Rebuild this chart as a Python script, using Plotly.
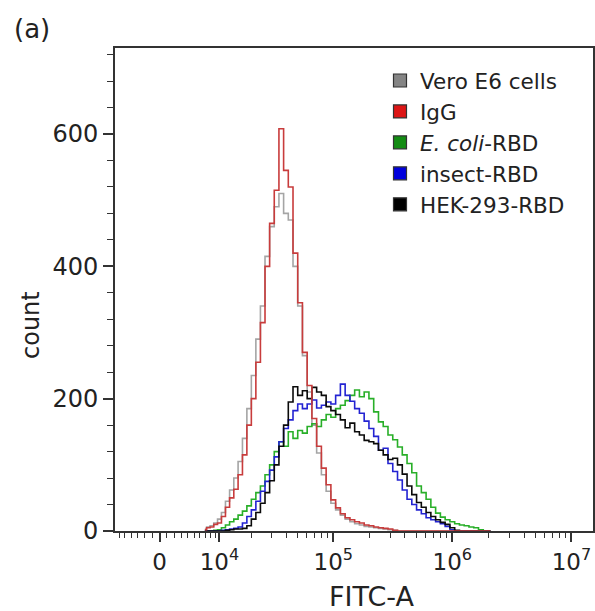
import numpy as np
import plotly.graph_objects as go

# ---------------- data ----------------
# histogram bin centres, log10 of FITC-A intensity
log_fitc = [3.84, 3.88, 3.92, 3.96,
            4.00, 4.04, 4.08, 4.12, 4.16, 4.20, 4.24, 4.28, 4.32, 4.36,
            4.40, 4.44, 4.48, 4.52, 4.56, 4.60, 4.64, 4.68, 4.72, 4.76,
            4.80, 4.84, 4.88, 4.92, 4.96,
            5.00, 5.04, 5.08, 5.12, 5.16, 5.20, 5.24, 5.28, 5.32, 5.36,
            5.40, 5.44, 5.48, 5.52, 5.56, 5.60, 5.64, 5.68, 5.72, 5.76,
            5.80, 5.84, 5.88, 5.92, 5.96,
            6.00, 6.04, 6.08, 6.12, 6.16, 6.20, 6.24, 6.28, 6.32]

vero = [3, 6, 8, 12,
        18, 28, 45, 62, 80, 105, 140, 185, 235, 290, 340, 415, 460, 490, 510, 480, 470, 400, 340, 265, 210, 160, 118, 85, 60,
        42, 32, 24, 18, 14, 11, 9, 7, 6, 5, 4, 3, 2, 1, 0, 0, 0, 0, 0, 0, 0, 0, 0, 0, 0,
        0, 0, 0, 0, 0, 0, 0, 0, 0]
igg = [2, 5, 6, 10,
       12, 22, 36, 50, 63, 85, 115, 160, 200, 255, 315, 400, 465, 515, 608, 545, 520, 420, 345, 270, 220, 170, 128, 95, 70,
       47, 35, 26, 20, 17, 14, 12, 9, 8, 6, 5, 4, 3, 1, 0, 0, 0, 0, 0, 0, 0, 0, 0, 0, 0,
       0, 0, 0, 0, 0, 0, 0, 0, 0]
ecoli = [0, 0, 0, 1,
         2, 5, 9, 14, 18, 24, 30, 38, 48, 58, 68, 85, 100, 120, 135, 128, 150, 140, 152, 148, 158, 162, 158, 168, 176,
         172, 185, 190, 197, 205, 213, 203, 210, 200, 180, 165, 158, 145, 138, 127, 115, 102, 88, 68, 58, 48, 36, 27, 21, 17,
         14, 11, 9, 8, 6, 5, 2, 0, 0]
insect = [0, 0, 0, 0,
          0, 1, 2, 3, 4, 6, 12, 22, 32, 45, 60, 75, 92, 112, 135, 155, 168, 182, 192, 185, 192, 198, 186, 190, 195,
          192, 205, 222, 205, 196, 185, 178, 166, 155, 143, 122, 125, 102, 90, 77, 62, 48, 40, 32, 26, 20, 17, 14, 11, 7,
          2, 0, 0, 0, 0, 0, 0, 0, 0]
hek = [0, 0, 0, 0,
       0, 0, 1, 2, 3, 3, 4, 8, 18, 28, 42, 58, 76, 100, 128, 160, 195, 218, 205, 212, 200, 217, 210, 205, 188,
       182, 176, 168, 156, 163, 150, 145, 137, 135, 132, 122, 115, 108, 110, 100, 86, 68, 55, 43, 36, 28, 22, 17, 13, 10,
       5, 1, 0, 0, 0, 0, 0, 0, 0]

series_names = ["Vero E6 cells", "IgG", "<i>E. coli</i>-RBD", "insect-RBD", "HEK-293-RBD"]

x_tick_values = [0, 1e4, 1e5, 1e6, 1e7]
x_tick_labels = ["0", "10<sup>4</sup>", "10<sup>5</sup>", "10<sup>6</sup>", "10<sup>7</sup>"]
y_tick_values = [0, 200, 400, 600]

# ---------------- biexponential display scale ----------------
C = 3480.0


def biex(v):
    return np.arcsinh(np.asarray(v, dtype=float) / (2 * C)) / np.log(10)


fitc = [10 ** v for v in log_fitc]
xb = biex(fitc)

minor_raw = ([k * 1000 for k in range(-6, 10) if k != 0] +
             [k * 1e4 for k in range(2, 10)] +
             [k * 1e5 for k in range(2, 10)] +
             [k * 1e6 for k in range(2, 10)])

FONT = "DejaVu Sans"
TXT = "#222222"
line_col = {"Vero E6 cells": "rgb(165,165,165)", "IgG": "rgb(200,60,60)",
            "<i>E. coli</i>-RBD": "rgb(40,175,40)", "insect-RBD": "rgb(35,35,210)",
            "HEK-293-RBD": "rgb(10,10,10)"}
legend_col = {"Vero E6 cells": "#858585", "IgG": "#dd1515",
              "<i>E. coli</i>-RBD": "#138c13", "insect-RBD": "#0000dd",
              "HEK-293-RBD": "#000000"}

data_map = {"Vero E6 cells": vero, "IgG": igg, "<i>E. coli</i>-RBD": ecoli,
            "insect-RBD": insect, "HEK-293-RBD": hek}

fig = go.Figure()
draw_order = ["Vero E6 cells", "<i>E. coli</i>-RBD", "insect-RBD", "HEK-293-RBD", "IgG"]
for name in draw_order:
    fig.add_trace(go.Scatter(x=xb, y=data_map[name], mode="lines", line_shape="hvh",
                             line=dict(color=line_col[name], width=1.6),
                             showlegend=False, hoverinfo="skip"))
for name in series_names:
    fig.add_trace(go.Scatter(x=[None], y=[None], mode="markers", name=name,
                             marker=dict(symbol="square", size=13, color=legend_col[name],
                                         line=dict(color="#333333", width=1.2))))

W, H = 595, 611
L, R, T, B = 115, 2, 48, 80
pw, ph = W - L - R, H - T - B
x0_px = 159.5
ppu = 119.1
x_range = [(L - x0_px) / ppu, (W - R - x0_px) / ppu]


def px_x(p):
    return (p - L) / pw


def px_y(p):
    return (H - B - p) / ph


fig.update_layout(
    width=W, height=H,
    margin=dict(l=L, r=R, t=T, b=B, pad=0, autoexpand=False),
    paper_bgcolor="white", plot_bgcolor="white",
    font=dict(family=FONT, color=TXT),
    legend=dict(x=px_x(380), y=px_y(60), xanchor="left", yanchor="top",
                font=dict(size=21.5, family=FONT, color=TXT),
                bgcolor="rgba(0,0,0,0)", borderwidth=0),
)

fig.update_xaxes(
    range=x_range, showgrid=False, zeroline=False, automargin=False,
    showline=True, linecolor="#333333", linewidth=2, mirror=True,
    tickmode="array", tickvals=list(biex(x_tick_values)), ticktext=x_tick_labels,
    ticks="outside", ticklen=9, tickwidth=1.5, tickcolor="#333333",
    tickfont=dict(size=23, family=FONT, color=TXT),
    minor=dict(tickmode="array", tickvals=list(biex(minor_raw)), ticks="outside",
               ticklen=5, tickwidth=1.2, tickcolor="#333333"),
)
fig.update_yaxes(
    range=[0, 730], showgrid=False, zeroline=False, automargin=False,
    showline=True, linecolor="#333333", linewidth=2, mirror=True,
    tickmode="array", tickvals=y_tick_values,
    ticks="outside", ticklen=10, tickwidth=1.5, tickcolor="#333333",
    tickfont=dict(size=24, family=FONT, color=TXT),
    minor=dict(dtick=40, tick0=0, ticks="outside", ticklen=6, tickwidth=1.2, tickcolor="#333333"),
)

fig.add_annotation(text="FITC-A", xref="paper", yref="paper", xanchor="center", yanchor="middle",
                   x=px_x(371), y=px_y(596), showarrow=False,
                   font=dict(size=27, family=FONT, color=TXT))
fig.add_annotation(text="count", xref="paper", yref="paper", textangle=-90,
                   xanchor="center", yanchor="middle",
                   x=px_x(31), y=px_y(325), showarrow=False,
                   font=dict(size=24, family=FONT, color=TXT))
fig.add_annotation(text="(a)", xref="paper", yref="paper", xanchor="center", yanchor="middle",
                   x=px_x(32), y=px_y(29), showarrow=False,
                   font=dict(size=26, family=FONT, color=TXT))

fig.write_html("out.html", config={"displayModeBar": False},
               post_script="document.body.style.margin='0px';document.body.style.overflow='hidden';")
